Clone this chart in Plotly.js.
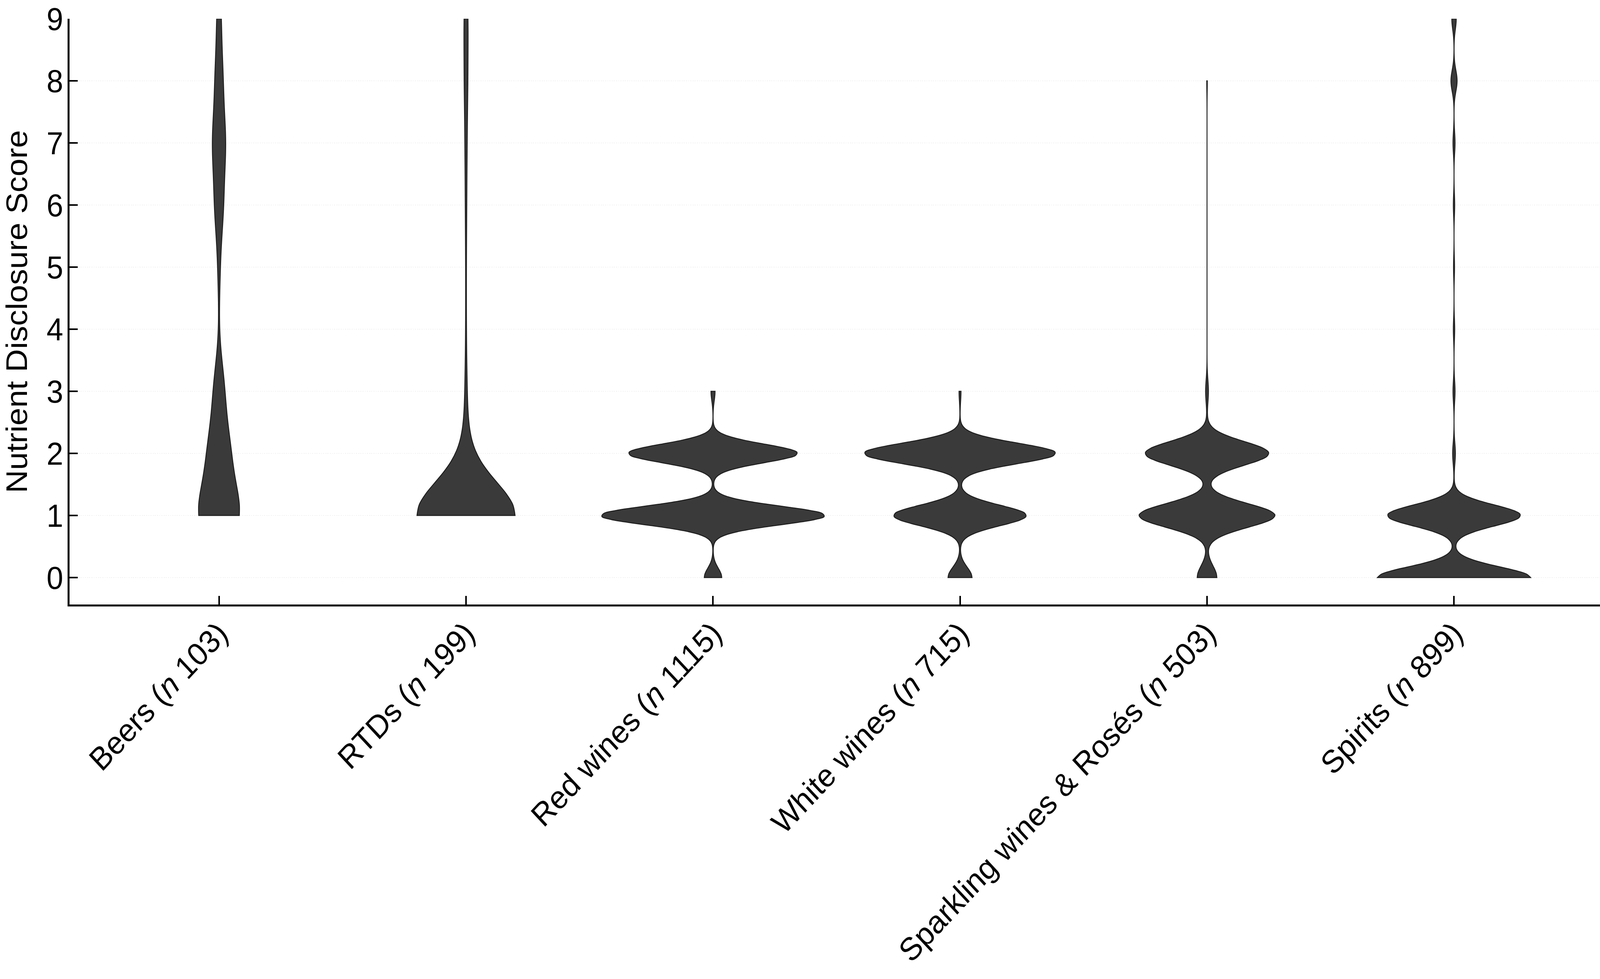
<!DOCTYPE html>
<html>
<head>
<meta charset="utf-8">
<script src="https://cdn.plot.ly/plotly-3.0.1.min.js"></script>
<style>
  html, body { margin: 0; padding: 0; background: #fff; overflow: hidden; }
  #chart { width: 4392px; height: 2507px; transform-origin: 0 0; }
</style>
</head>
<body>
<div id="chart"></div>
<script>
// categories and sample sizes shown under each violin
var categories = ['Beers', 'RTDs', 'Red wines', 'White wines', 'Sparkling wines & Rosés', 'Spirits'];
var nValues = [103, 199, 1115, 715, 503, 899];

// score scale 0..9, number of products at each score
var scores = [0, 1, 2, 3, 4, 5, 6, 7, 8, 9];
var beersCounts     = [0,  40,  20, 10, 0, 2, 8, 12,  7,  4];
var rtdCounts       = [0, 170,   8,  3, 1, 1, 2,  3,  5,  6];
var redCounts       = [47, 602, 455, 11, 0, 0, 0,  0,  0,  0];
var whiteCounts     = [49, 271, 391,  4, 0, 0, 0,  0,  0,  0];
var sparklingCounts = [35, 242, 220,  5, 0, 0, 0,  0,  1,  0];
var spiritsCounts   = [448, 389,  8,  6, 4, 3, 4,  6, 18, 13];

var allCounts = [beersCounts, rtdCounts, redCounts, whiteCounts, sparklingCounts, spiritsCounts];

// kernel bandwidth and drawn width of each violin (style only)
var bandwidths = [0.5, 0.53, 0.15, 0.165, 0.19, 0.17];
var violinWidths = [0.165, 0.397, 0.90, 0.77, 0.55, 0.62];

// the browser window is narrower than the figure: draw at full size, then squeeze to fit
var chartDiv = document.getElementById('chart');
chartDiv.style.transform = 'scale(' + (window.innerWidth / 4392) + ', 1)';

// turn a count table back into the list of individual scores
function expandCounts(counts) {
  var values = [];
  for (var i = 0; i < scores.length; i++) {
    for (var k = 0; k < counts[i]; k++) {
      values.push(scores[i]);
    }
  }
  return values;
}

var data = [];
for (var i = 0; i < categories.length; i++) {
  var ys = expandCounts(allCounts[i]);
  var xs = ys.map(function() { return categories[i]; });
  data.push({
    type: 'violin',
    x: xs,
    y: ys,
    name: categories[i],
    spanmode: 'hard',
    bandwidth: bandwidths[i],
    scalemode: 'width',
    width: violinWidths[i],
    points: false,
    box: { visible: false },
    meanline: { visible: false },
    fillcolor: '#3a3a3a',
    line: { color: '#1e1e1e', width: 2.5 },
    hoveron: 'violins',
    showlegend: false
  });
}

var tickLabels = categories.map(function(c, i) {
  return c + ' (<i>n</i> ' + nValues[i] + ')';
});

var font = { family: 'Liberation Sans, Arial, sans-serif', size: 82, color: '#000' };

var layout = {
  width: 4392,
  height: 2507,
  paper_bgcolor: '#fff',
  plot_bgcolor: '#fff',
  font: font,
  showlegend: false,
  violinmode: 'overlay',
  margin: { l: 191, r: 0, t: 48, b: 959 },
  xaxis: {
    type: 'category',
    categoryorder: 'array',
    categoryarray: categories,
    range: [-0.605, 5.591],
    tickvals: categories,
    ticktext: tickLabels,
    tickangle: -45,
    ticks: 'inside',
    ticklen: 22,
    tickwidth: 4,
    tickcolor: '#000',
    ticklabelstandoff: -12,
    showline: true,
    linecolor: '#000',
    linewidth: 5,
    showgrid: false,
    zeroline: false,
    tickfont: font
  },
  yaxis: {
    range: [-0.434, 9],
    tickvals: scores,
    ticks: 'inside',
    ticklen: 22,
    tickwidth: 4,
    tickcolor: '#000',
    ticklabelstandoff: -4,
    showline: true,
    linecolor: '#000',
    linewidth: 5,
    showgrid: true,
    gridcolor: '#f2f2f2',
    griddash: 'dot',
    gridwidth: 2,
    zeroline: false,
    tickfont: font,
    title: { text: 'Nutrient Disclosure Score', font: font, standoff: 69 }
  }
};

Plotly.newPlot('chart', data, layout, { staticPlot: true });
</script>
</body>
</html>
